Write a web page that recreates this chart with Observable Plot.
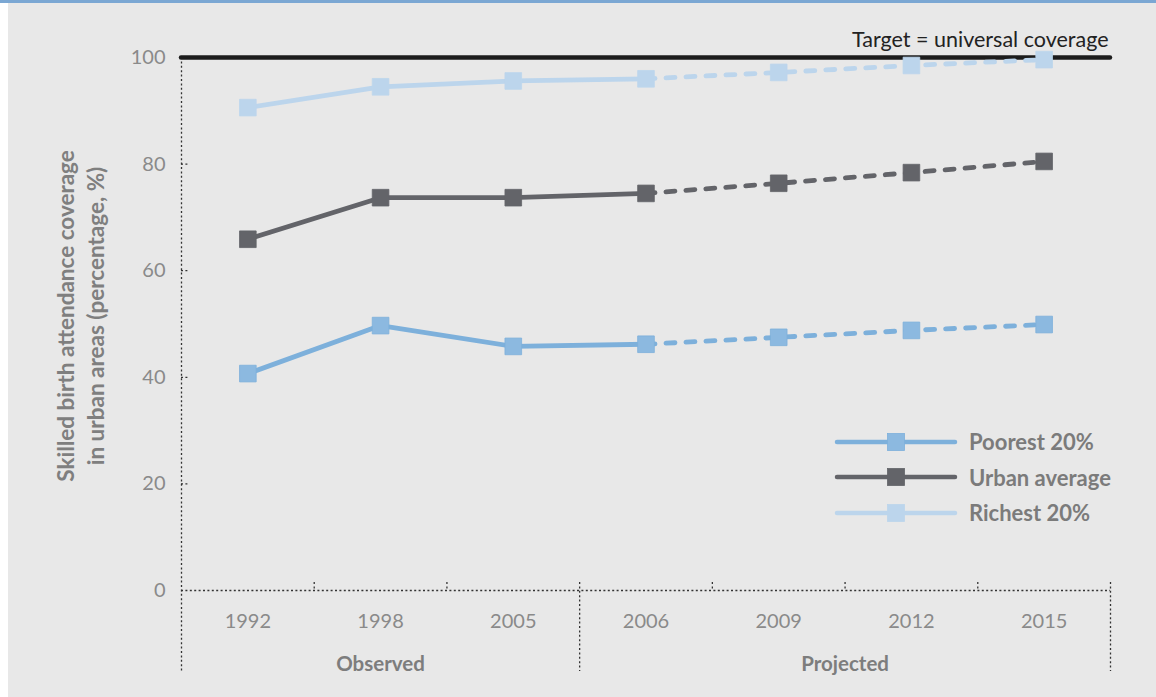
<!DOCTYPE html>
<html><head><meta charset="utf-8">
<script src="https://cdn.jsdelivr.net/npm/d3@7"></script>
<script src="https://cdn.jsdelivr.net/npm/@observablehq/plot@0.6"></script>
<style>
html,body{margin:0;padding:0;background:#fff;}
#wrap{position:relative;width:1156px;height:697px;overflow:hidden;background:#fff;}
#bar{position:absolute;left:0;top:0;width:1156px;height:3px;background:#7ba7d3;}
#chart{position:absolute;left:8px;top:3px;width:1148px;height:694px;background:#e8e8e8;}
#legend{position:absolute;left:834px;top:424px;font-family:Lato,sans-serif;font-weight:bold;font-size:22px;color:#7b7b7b;}
.row{display:flex;align-items:center;height:35.5px;}
.row svg{margin-right:11px;}
</style></head><body>
<div id="wrap"><div id="bar"></div><div id="chart"></div><div id="legend"></div></div>
<script>
const years = ["1992","1998","2005","2006","2009","2012","2015"];
const poorest = [40.7,49.7,45.8,46.2,47.5,48.8,49.9];
const urban = [65.9,73.7,73.7,74.5,76.4,78.4,80.5];
const richest = [90.6,94.5,95.6,96.0,97.2,98.5,99.6];
const seriesNames = ["Poorest 20%","Urban average","Richest 20%"];
const yTicks = [0,20,40,60,80,100];
const target = 100;
const targetLabel = "Target = universal coverage";
const periods = [{label:"Observed", first:0, last:2},{label:"Projected", first:3, last:6}];
const lastObservedIndex = 3; // solid line up to 2006, dashed after
const yLabel = "Skilled birth attendance coverage\nin urban areas (percentage, %)";

const seriesValues = [poorest, urban, richest];
const lineColors = ["#7db0db","#636469","#bcd5ec"];
const markColors = ["#8cb9e0","#636469","#bcd5ec"];

const W = 1148, H = 694, mL = 173, mR = 46, mT = 54, mB = 107;
const frameW = W - mL - mR, frameH = H - mT - mB;
const n = years.length;
const boundaries = d3.range(n - 1).map(i => i + 0.5);
const periodEnds = periods.map(p => p.last + 0.5);
const dotted = {stroke:"#333", strokeDasharray:"2,2.4", strokeWidth:1.3};

const marks = [];
marks.push(Plot.ruleY([0], dotted));
marks.push(Plot.ruleY(yTicks.filter(t => t > 0 && t < target), {...dotted, insetRight: frameW - 8}));
marks.push(Plot.ruleX([-0.5], {...dotted, insetBottom: -81}));
marks.push(Plot.ruleX(boundaries.filter(b => !periodEnds.includes(b)), {...dotted, insetTop: frameH - 8}));
marks.push(Plot.ruleX(periodEnds, {...dotted, insetTop: frameH - 8, insetBottom: -81}));
marks.push(Plot.axisY({ticks: yTicks, tickSize: 0, tickPadding: 16, label: null, fill:"#8a8a8a", fontSize: 20}));
marks.push(Plot.axisX({ticks: d3.range(n), tickFormat: i => years[i], tickSize: 0, tickPadding: 23, label: null, fill:"#8a8a8a", fontSize: 20}));
marks.push(Plot.text(periods, {x: d => (d.first + d.last) / 2, frameAnchor: "bottom", dy: 80, text: "label", fontWeight: "bold", fontSize: 20.5, fill: "#7d7d7d"}));
marks.push(Plot.text([yLabel], {frameAnchor: "left", rotate: -90, dx: -102.5, dy: -8, textAnchor: "middle", lineAnchor: "middle", lineHeight: 1.35, fontWeight: "bold", fontSize: 22.5, fill: "#7f7f7f"}));
marks.push(Plot.ruleY([target], {stroke: "#1c1c1c", strokeWidth: 4.5, strokeLinecap: "round"}));
marks.push(Plot.text([targetLabel], {frameAnchor: "top-right", dy: -26, dx: -2, fontSize: 21.5, fill: "#222"}));
seriesValues.forEach((vals, s) => {
  const rows = vals.map((v, i) => ({i, v}));
  marks.push(Plot.line(rows.filter(d => d.i <= lastObservedIndex), {x: "i", y: "v", stroke: lineColors[s], strokeWidth: 4.8, strokeLinecap: "round"}));
  marks.push(Plot.line(rows.filter(d => d.i >= lastObservedIndex), {x: "i", y: "v", stroke: lineColors[s], strokeWidth: 4.8, strokeLinecap: "round", strokeDasharray: "9,11"}));
});
seriesValues.forEach((vals, s) => {
  const rows = vals.map((v, i) => ({i, v}));
  marks.push(Plot.dot(rows, {x: "i", y: "v", symbol: "square", r: 9.4, fill: markColors[s], stroke: lineColors[s], strokeWidth: 0.8}));
});

const chart = Plot.plot({
  width: W, height: H,
  marginLeft: mL, marginRight: mR, marginTop: mT, marginBottom: mB,
  style: {fontFamily: "Lato, sans-serif", fontSize: "20px", background: "transparent", overflow: "visible"},
  x: {type: "linear", domain: [-0.5, n - 0.5], axis: null},
  y: {domain: [0, 100], axis: null},
  marks
});
document.getElementById("chart").appendChild(chart);

const legend = d3.select("#legend");
seriesNames.forEach((name, s) => {
  const row = legend.append("div").attr("class", "row");
  const svg = row.append("svg").attr("width", 124).attr("height", 20);
  svg.append("line").attr("x1", 3).attr("x2", 121).attr("y1", 10).attr("y2", 10)
    .attr("stroke", lineColors[s]).attr("stroke-width", 4.5).attr("stroke-linecap", "round");
  svg.append("rect").attr("x", 53.5).attr("y", 1.5).attr("width", 17).attr("height", 17)
    .attr("fill", markColors[s]).attr("stroke", lineColors[s]).attr("stroke-width", 0.8);
  row.append("span").text(name);
});
</script>
</body></html>
